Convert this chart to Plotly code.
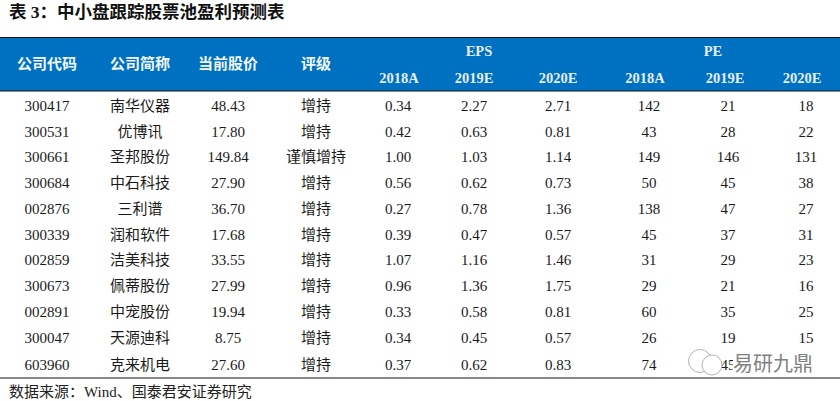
import plotly.graph_objects as go

FONT = "Liberation Serif, Noto Sans CJK SC, serif"
codes = ["300417","300531","300661","300684","002876","300339","002859","300673","002891","300047","603960"]
names = ["南华仪器","优博讯","圣邦股份","中石科技","三利谱","润和软件","洁美科技","佩蒂股份","中宠股份","天源迪科","克来机电"]
prices = ["48.43","17.80","149.84","27.90","36.70","17.68","33.55","27.99","19.94","8.75","27.60"]
ratings = ["增持","增持","谨慎增持","增持","增持","增持","增持","增持","增持","增持","增持"]
eps18 = ["0.34","0.42","1.00","0.56","0.27","0.39","1.07","0.96","0.33","0.34","0.37"]
eps19 = ["2.27","0.63","1.03","0.62","0.78","0.47","1.16","1.36","0.58","0.45","0.62"]
eps20 = ["2.71","0.81","1.14","0.73","1.36","0.57","1.46","1.75","0.81","0.57","0.83"]
pe18 = ["142","43","149","50","138","45","31","29","60","26","74"]
pe19 = ["21","28","146","45","47","37","29","21","35","19","45"]
pe20 = ["18","22","131","38","27","31","23","16","25","15",""]

title = "表 3\uff1a中小盘跟踪股票池盈利预测表"
source = "数据来源\uff1aWind、国泰君安证券研究"
main_heads = ["公司代码","公司简称","当前股价","评级"]
group_heads = ["EPS","PE"]
year_heads = ["2018A","2019E","2020E","2018A","2019E","2020E"]
watermark = "易研九鼎"

row_y = [107,133,158.5,184,210,236,261.5,287,313,339.5,366]
columns = [(codes,47),(names,140),(prices,228),(ratings,316),(eps18,398),(eps19,474),(eps20,558),(pe18,649),(pe19,728),(pe20,806)]

fig = go.Figure()

def text(xs, ys, labels, size=15, color="#1a1a1a", bold=False, anchor="middle center"):
    fig.add_trace(go.Scatter(
        x=xs, y=ys, text=labels, mode="text", textposition=anchor, hoverinfo="skip",
        textfont=dict(family=FONT, size=size, color=color, weight=700 if bold else 400)))

fig.add_shape(type="rect", x0=0, x1=840, y0=37.5, y1=91, fillcolor="#0070C0", line_width=0, layer="below")
for y, w in [(37.5,1.2),(91,1.2),(378,1.2)]:
    fig.add_shape(type="line", x0=0, x1=840, y0=y, y1=y, line=dict(color="#111111", width=w))

text([9],[13.5],[title],size=17.5,color="#111111",bold=True,anchor="middle right")
text([47,140,228,316],[65.5]*4,main_heads,color="#f2f7fb",bold=True)
text([479,713],[52,52],group_heads,size=14.5,color="#e4eef7",bold=True)
text([399,474,558,645,725,802],[79]*6,year_heads,size=14.5,color="#e4eef7",bold=True)
for vals, cx in columns:
    text([cx]*len(vals), row_y, vals)
text([9],[393],[source],color="#222222",anchor="middle right")

# watermark: two outlined circles over the table text, then its label
for cx, cy, r in [(700,361,11.5),(712,365,10)]:
    fig.add_shape(type="circle", x0=cx-r, x1=cx+r, y0=cy-r, y1=cy+r,
                  line=dict(color="#a0a0a0", width=0.8), fillcolor="white")
fig.add_shape(type="rect", x0=733, x1=814, y0=351, y1=376, fillcolor="white", line_width=0)
fig.add_annotation(x=773, y=364, text=watermark, showarrow=False,
                   font=dict(family=FONT, size=20, color="#808080"))

fig.update_layout(
    width=840, height=401, margin=dict(l=0,r=0,t=0,b=0),
    paper_bgcolor="white", plot_bgcolor="white", showlegend=False,
    xaxis=dict(range=[0,840],visible=False,fixedrange=True),
    yaxis=dict(range=[401,0],visible=False,fixedrange=True))
fig.write_html("out.html", config={"displayModeBar":False},
               post_script="document.body.style.margin='0';document.documentElement.style.overflow='hidden';")
